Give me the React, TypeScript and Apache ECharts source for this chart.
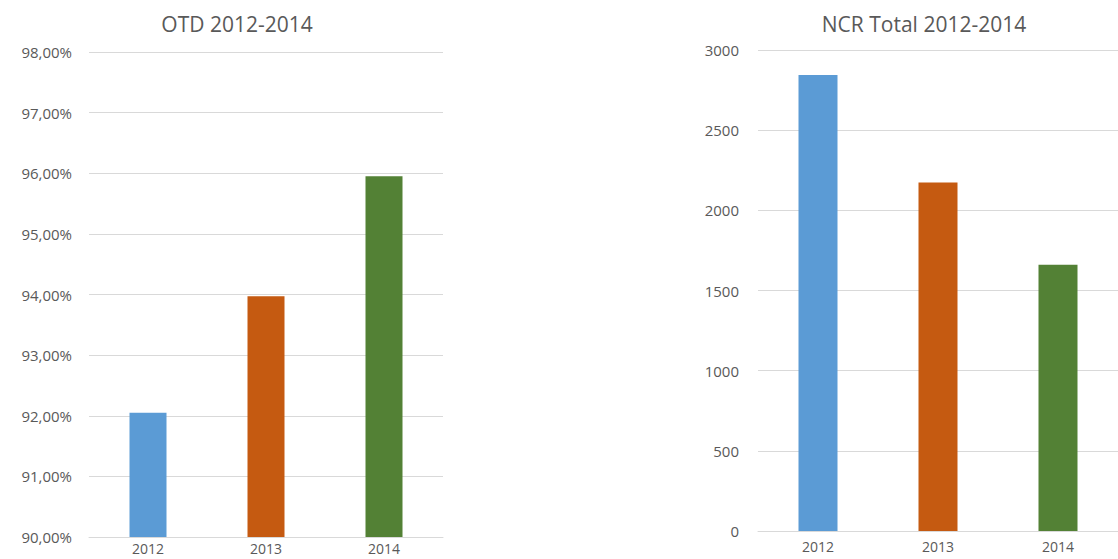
import React, { useEffect, useRef } from "react";
import * as echarts from "echarts";

const years = ["2012", "2013", "2014"];
const otdValues = [92.05, 93.97, 95.95];
const ncrValues = [2844, 2173, 1660];
const barColors = ["#5B9BD5", "#C55A11", "#538135"];
const otdTitle = "OTD 2012-2014";
const ncrTitle = "NCR Total 2012-2014";

const FONT = "'Open Sans', 'Noto Sans', sans-serif";
const LABEL_COLOR = "#595959";
const GRID_COLOR = "#d9d9d9";

export default function App() {
  const ref = useRef<HTMLDivElement>(null);

  useEffect(() => {
    document.body.style.margin = "0";
    if (!ref.current) return;
    const chart = echarts.init(ref.current, undefined, { renderer: "svg" });

    const axisLabel = { color: LABEL_COLOR, fontFamily: FONT, fontSize: 15 };
    const xLabel = { ...axisLabel, fontSize: 14, lineHeight: 14, margin: 4 };
    const colored = (vals: number[]) =>
      vals.map((v, i) => ({ value: v, itemStyle: { color: barColors[i] } }));
    const titleStyle = { color: LABEL_COLOR, fontFamily: FONT, fontSize: 21, fontWeight: "normal" };

    chart.setOption({
      animation: false,
      backgroundColor: "#ffffff",
      title: [
        { text: otdTitle, left: 232, top: 8, textAlign: "center", textStyle: titleStyle },
        { text: ncrTitle, left: 919, top: 8, textAlign: "center", textStyle: titleStyle },
      ],
      grid: [
        { left: 89, top: 52, width: 354, height: 485 },
        { left: 758, top: 50, width: 374, height: 481 },
      ],
      xAxis: [
        {
          gridIndex: 0,
          type: "category",
          data: years,
          axisLine: { lineStyle: { color: GRID_COLOR } },
          axisTick: { show: false },
          axisLabel: xLabel,
        },
        {
          gridIndex: 1,
          type: "category",
          data: years,
          axisLine: { lineStyle: { color: GRID_COLOR } },
          axisTick: { show: false },
          axisLabel: { ...xLabel, margin: 8 },
        },
      ],
      yAxis: [
        {
          gridIndex: 0,
          type: "value",
          min: 90,
          max: 98,
          interval: 1,
          axisLine: { show: false },
          axisTick: { show: false },
          splitLine: { lineStyle: { color: GRID_COLOR } },
          axisLabel: {
            ...axisLabel,
            margin: 17,
            formatter: (v: number) => v.toFixed(2).replace(".", ",") + "%",
          },
        },
        {
          gridIndex: 1,
          type: "value",
          min: 0,
          max: 3000,
          interval: 500,
          axisLine: { show: false },
          axisTick: { show: false },
          splitLine: { lineStyle: { color: GRID_COLOR } },
          axisLabel: { ...axisLabel, margin: 19, formatter: (v: number) => String(v) },
        },
      ],
      series: [
        { type: "bar", xAxisIndex: 0, yAxisIndex: 0, barWidth: 37, data: colored(otdValues) },
        { type: "bar", xAxisIndex: 1, yAxisIndex: 1, barWidth: 39, data: colored(ncrValues) },
      ],
    });

    return () => chart.dispose();
  }, []);

  return <div ref={ref} style={{ width: 1118, height: 559 }} />;
}
